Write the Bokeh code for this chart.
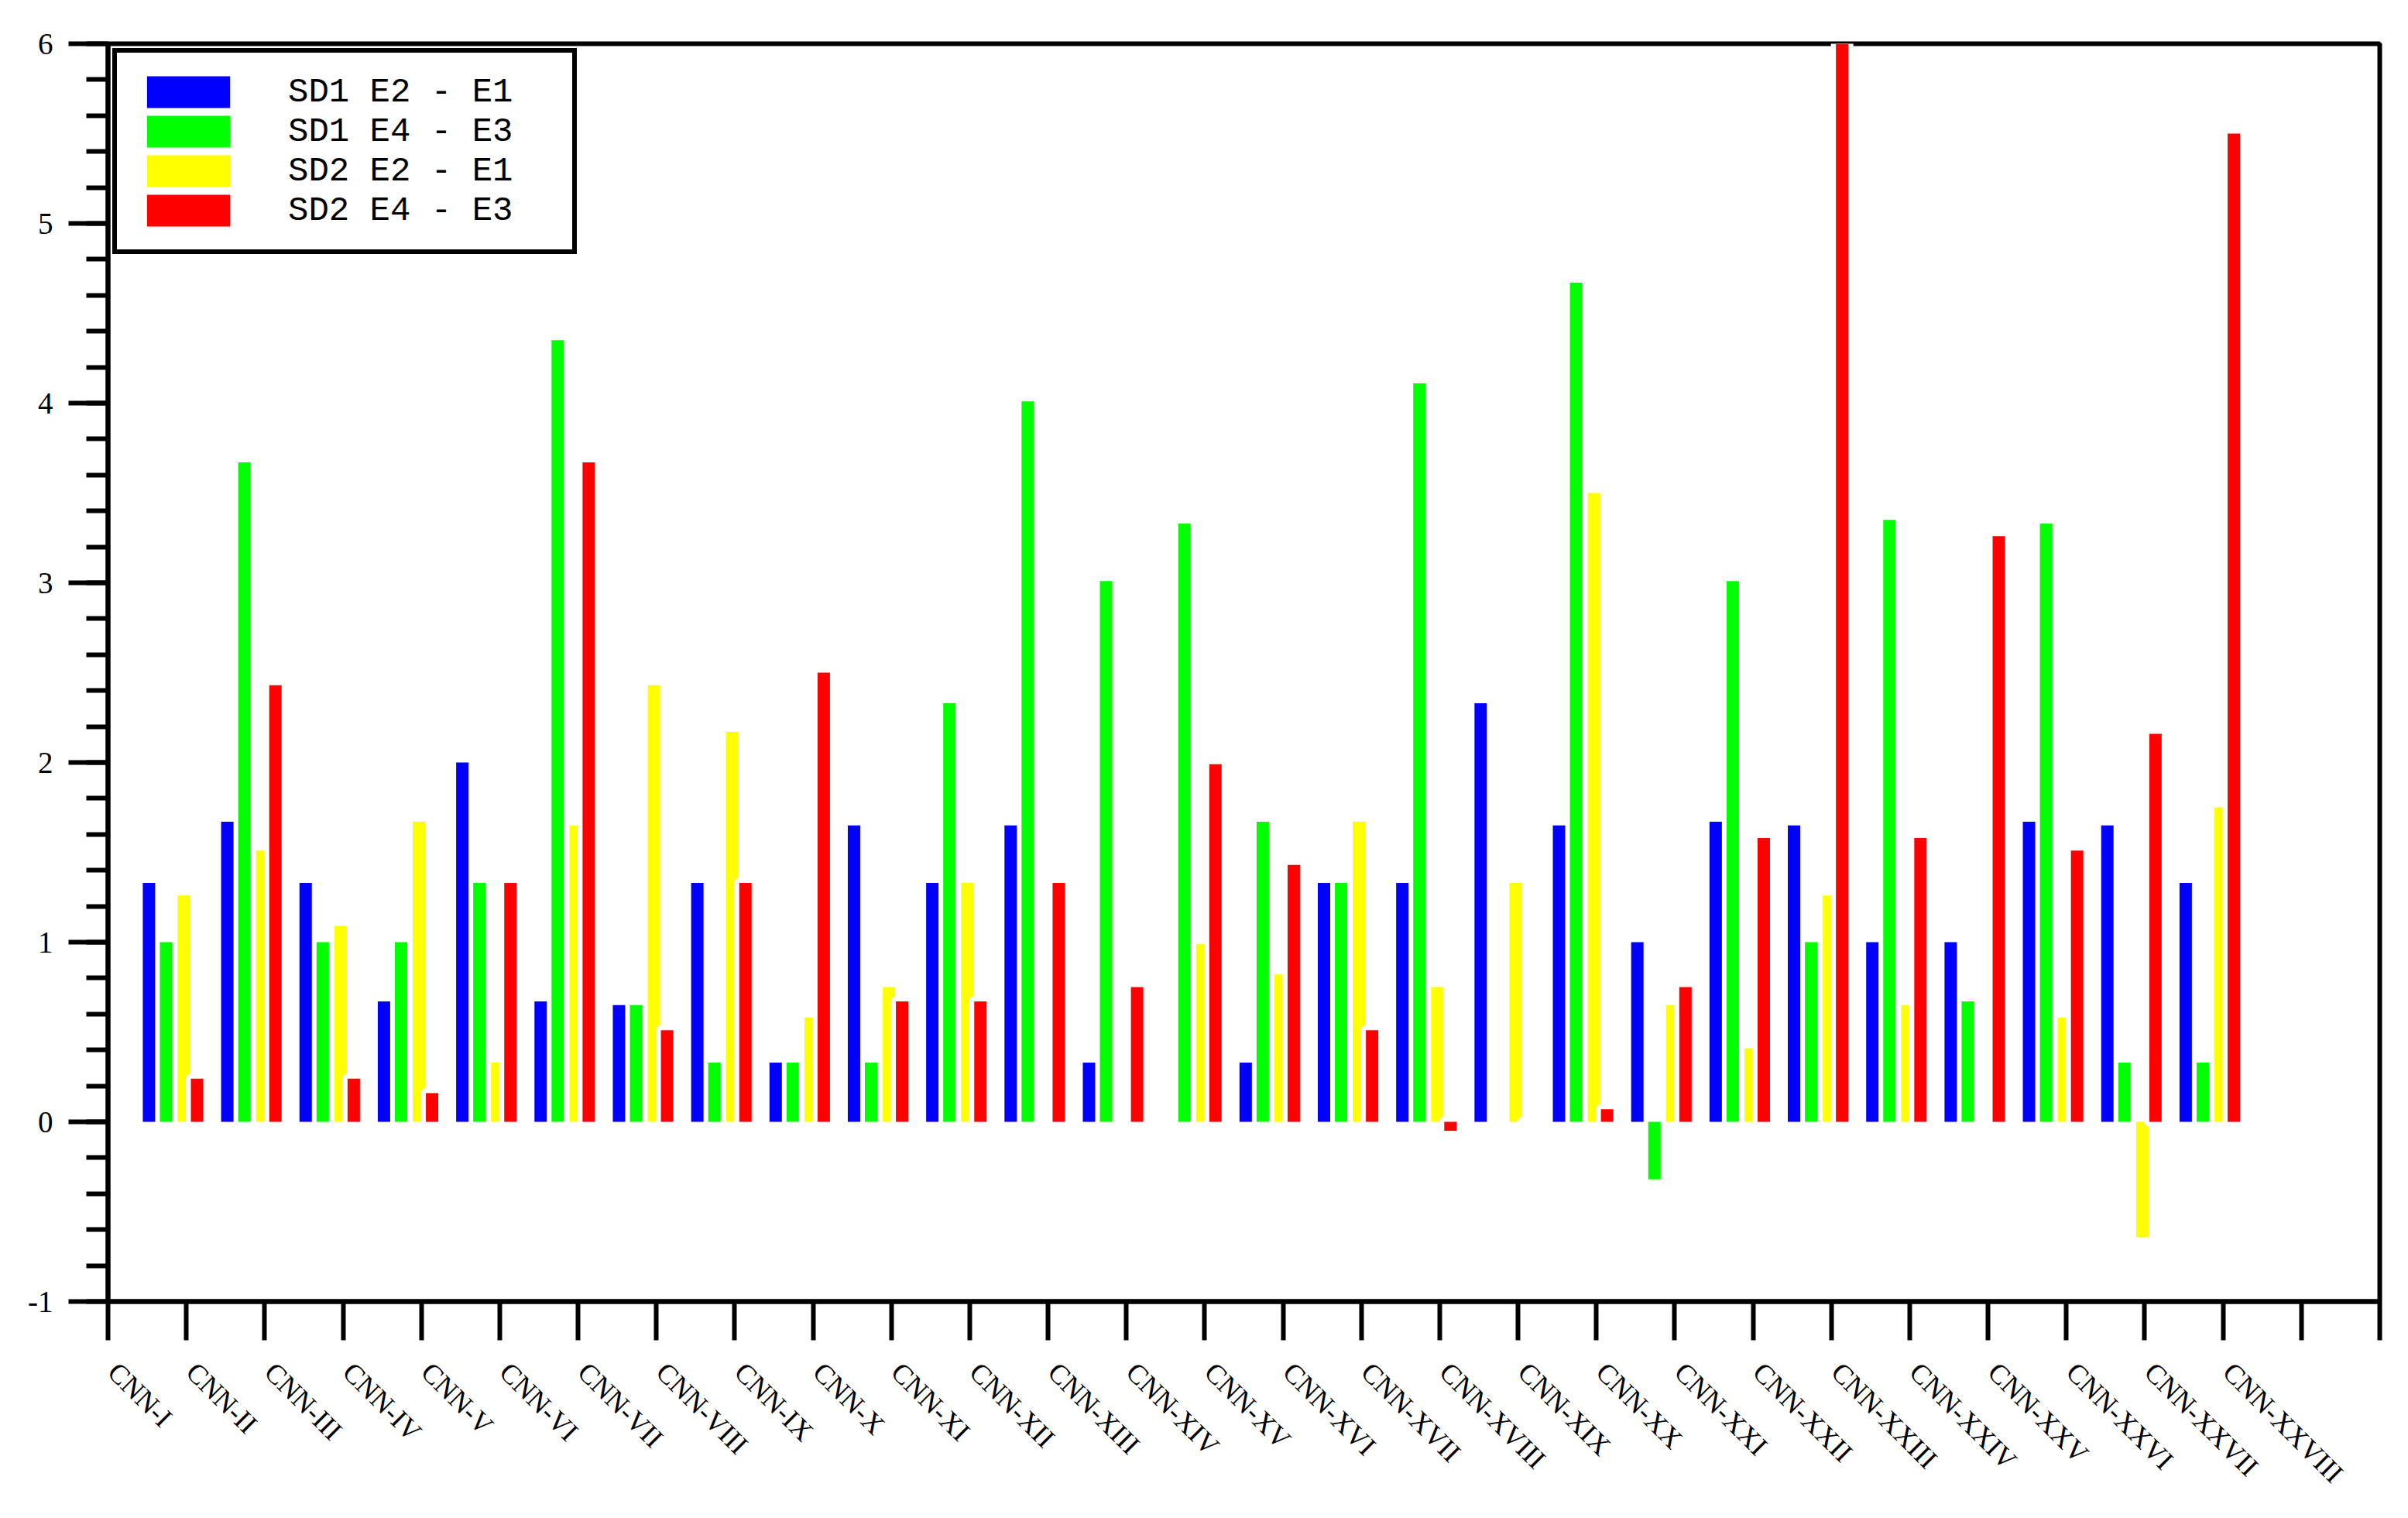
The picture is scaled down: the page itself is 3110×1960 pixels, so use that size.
import math
from bokeh.plotting import figure
from bokeh.models import (Range1d, FixedTicker, SingleIntervalTicker, CustomJSTickFormatter,
                          Legend, LegendItem, LinearAxis)
from bokeh.embed import file_html
from bokeh.resources import INLINE

# ---------------- data ----------------
tick_labels = ["CNN-I", "CNN-II", "CNN-III", "CNN-IV", "CNN-V", "CNN-VI", "CNN-VII",
               "CNN-VIII", "CNN-IX", "CNN-X", "CNN-XI", "CNN-XII", "CNN-XIII", "CNN-XIV",
               "CNN-XV", "CNN-XVI", "CNN-XVII", "CNN-XVIII", "CNN-XIX", "CNN-XX",
               "CNN-XXI", "CNN-XXII", "CNN-XXIII", "CNN-XXIV", "CNN-XXV", "CNN-XXVI",
               "CNN-XXVII", "CNN-XXVIII"]

series_names = ["SD1 E2 - E1", "SD1 E4 - E3", "SD2 E2 - E1", "SD2 E4 - E3"]

sd1_e2_e1 = [1.33, 1.67, 1.33, 0.67, 2.00, 0.67, 0.65, 1.33, 0.33, 1.65, 1.33, 1.65, 0.33, 0.00,
             0.33, 1.33, 1.33, 2.33, 1.65, 1.00, 1.67, 1.65, 1.00, 1.00, 1.67, 1.65, 1.33]
sd1_e4_e3 = [1.00, 3.67, 1.00, 1.00, 1.33, 4.35, 0.65, 0.33, 0.33, 0.33, 2.33, 4.01, 3.01, 3.33,
             1.67, 1.33, 4.11, 0.00, 4.67, -0.32, 3.01, 1.00, 3.35, 0.67, 3.33, 0.33, 0.33]
sd2_e2_e1 = [1.26, 1.51, 1.09, 1.67, 0.33, 1.65, 2.43, 2.17, 0.58, 0.75, 1.33, 0.00, 0.00, 0.99,
             0.82, 1.67, 0.75, 1.33, 3.50, 0.65, 0.41, 1.26, 0.65, 0.00, 0.58, -0.64, 1.75]
sd2_e4_e3 = [0.24, 2.43, 0.24, 0.16, 1.33, 3.67, 0.51, 1.33, 2.50, 0.67, 0.67, 1.33, 0.75, 1.99,
             1.43, 0.51, -0.05, 0.00, 0.07, 0.75, 1.58, 6.00, 1.58, 3.26, 1.51, 2.16, 5.50]

colors = ["#0000FF", "#00FF00", "#FFFF00", "#FF0000"]

# ---------------- layout constants ----------------
group_start = 0.83          # centre of first group, in tick units
bar_offsets = [-0.307, -0.089, 0.139, 0.307]
bar_width = 0.158
label_shift = 0.06          # small horizontal nudge of the category labels, tick units

n_groups = len(sd1_e2_e1)
centers = [group_start + k for k in range(n_groups)]

p = figure(width=3078, height=1952,
           x_range=Range1d(0, len(tick_labels) + 1), y_range=Range1d(-1, 6),
           output_backend="svg", toolbar_location=None,
           min_border_left=139, min_border_right=5, min_border_top=56, min_border_bottom=272)

p.background_fill_color = "white"
p.border_fill_color = "white"
p.outline_line_color = "black"
p.outline_line_width = 6
p.outline_line_alpha = 1.0
p.xgrid.visible = False
p.ygrid.visible = False

series = [sd1_e2_e1, sd1_e4_e3, sd2_e2_e1, sd2_e4_e3]
renderers = []
for i, (vals, col) in enumerate(zip(series, colors)):
    xs = [c + bar_offsets[i] for c in centers]
    if i == 3:
        # white halo around the red bars (as in the original rendering)
        p.vbar(x=xs, width=bar_width, top=vals, bottom=0,
               fill_color="white", line_color="white", line_width=13, line_join="round")
    r = p.vbar(x=xs, width=bar_width, top=vals, bottom=0,
               fill_color=col, line_color=None)
    renderers.append(r)

# ---------------- x axis: line + ticks ----------------
xa = p.xaxis[0]
xa.ticker = FixedTicker(ticks=list(range(len(tick_labels) + 2)))
xa.formatter = CustomJSTickFormatter(code="return '';")
xa.major_label_text_font_size = "0px"
xa.major_label_standoff = 0
xa.axis_line_width = 6
xa.axis_line_color = "black"
xa.major_tick_line_width = 6
xa.major_tick_line_color = "black"
xa.major_tick_out = 50
xa.major_tick_in = 0
xa.minor_tick_line_color = None

# ---------------- x axis: rotated category labels ----------------
xl = LinearAxis(ticker=FixedTicker(ticks=[k + label_shift for k in range(len(tick_labels))]),
                formatter=CustomJSTickFormatter(args=dict(labels=tick_labels, d=label_shift), code="""
                    const i = Math.round(tick - d);
                    return (i >= 0 && i < labels.length) ? labels[i] : "";
                """))
xl.axis_line_color = None
xl.major_tick_line_color = None
xl.minor_tick_line_color = None
xl.major_tick_out = 0
xl.major_tick_in = 0
xl.major_label_orientation = -math.pi / 4
xl.major_label_standoff = 35
xl.major_label_text_font = "Liberation Serif"
xl.major_label_text_font_size = "36px"
xl.major_label_text_color = "black"
p.add_layout(xl, "below")

# ---------------- y axis ----------------
ya = p.yaxis[0]
ya.ticker = SingleIntervalTicker(interval=1, num_minor_ticks=5)
ya.formatter = CustomJSTickFormatter(code="return tick.toFixed(0);")
ya.major_label_text_font = "Liberation Serif"
ya.major_label_text_font_size = "39px"
ya.major_label_text_color = "black"
ya.major_label_standoff = 20
ya.axis_line_width = 6
ya.axis_line_color = "black"
ya.major_tick_line_width = 6
ya.major_tick_line_color = "black"
ya.major_tick_out = 51
ya.major_tick_in = 0
ya.minor_tick_line_width = 6
ya.minor_tick_line_color = "black"
ya.minor_tick_out = 28
ya.minor_tick_in = 0

# ---------------- legend ----------------
legend = Legend(items=[LegendItem(label=n, renderers=[r]) for n, r in zip(series_names, renderers)],
                location="top_left", orientation="vertical",
                margin=6, padding=25, spacing=0,
                glyph_width=134, glyph_height=51, label_standoff=62, label_width=342,
                label_height=51,
                label_text_font="Liberation Mono", label_text_font_size="44px",
                label_text_color="black",
                border_line_color="black", border_line_width=6, border_line_alpha=1.0,
                background_fill_color="white", background_fill_alpha=1.0)
p.add_layout(legend)

open("out.html", "w").write(file_html(p, INLINE))
